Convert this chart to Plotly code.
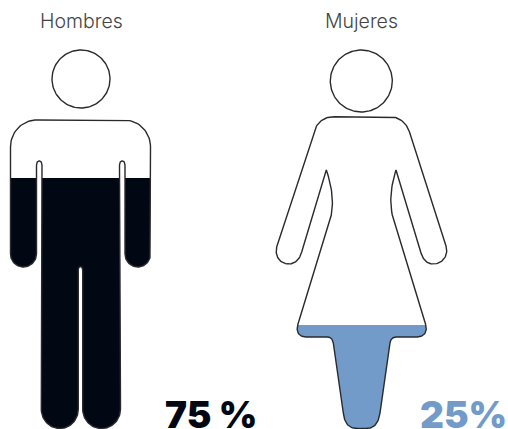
import numpy as np
import plotly.graph_objects as go

groups = ["Hombres", "Mujeres"]
shares = [75, 25]
share_labels = ["75 %", "25%"]
fill_colors = ["#020813", "#729bca"]
outline_color = "#2a2a2e"
label_color = "#444444"
W, H = 508, 429


def sample(cmds, n=24):
    """Turn a list of M/L/Q/C commands into a sampled polyline."""
    pts = []
    cur = None
    for c in cmds:
        k = c[0]
        p = [np.array(q, float) for q in c[1:]]
        if k in "ML":
            pts.append(p[0]); cur = p[0]
        else:
            for t in np.linspace(0, 1, n)[1:]:
                if k == "Q":
                    q = (1-t)**2*cur + 2*(1-t)*t*p[0] + t**2*p[1]
                else:
                    q = (1-t)**3*cur + 3*(1-t)**2*t*p[0] + 3*(1-t)*t**2*p[1] + t**3*p[2]
                pts.append(q)
            cur = p[-1]
    return np.array(pts)


def clip_below(poly, level):
    """Keep the part of a closed polygon under a horizontal level."""
    out = []
    m = len(poly)
    for i in range(m):
        a, b = poly[i], poly[(i+1) % m]
        ain, bin_ = a[1] >= level, b[1] >= level
        if ain:
            out.append(a)
        if ain != bin_:
            t = (level-a[1])/(b[1]-a[1])
            out.append(a+t*(b-a))
    return np.array(out)


def circle(cx, cy, r):
    th = np.linspace(0, 2*np.pi, 121)
    return np.column_stack([cx+r*np.cos(th), cy+r*np.sin(th)])


man = sample([
    ("M", (37, 120)), ("L", (124, 120)),
    ("C", (139, 120), (150.5, 132), (150.5, 147)),
    ("L", (150.5, 254)),
    ("C", (150.5, 261.5), (144.5, 267), (138, 267)),
    ("C", (131, 267), (125, 261.5), (125, 254)),
    ("L", (125, 165)),
    ("C", (125, 159.5), (119.5, 159.5), (119.5, 165)),
    ("L", (120.5, 409)),
    ("C", (120.5, 420), (112, 428.5), (101.5, 428.5)),
    ("C", (91, 428.5), (82.7, 420), (82.7, 409)),
    ("L", (82.7, 270)),
    ("C", (82.7, 265.5), (78.3, 265.5), (78.3, 270)),
    ("L", (78.3, 409)),
    ("C", (78.3, 420), (70, 428.5), (60, 428.5)),
    ("C", (49.5, 428.5), (41.3, 420), (41.3, 409)),
    ("L", (42, 165)),
    ("C", (42, 159.5), (36.5, 159.5), (36.5, 165)),
    ("L", (36.5, 254)),
    ("C", (36.5, 261.5), (30, 267), (23.5, 267)),
    ("C", (16.5, 267), (10.5, 261.5), (10.5, 254)),
    ("L", (10.5, 147)),
    ("C", (10.5, 132), (22, 120), (37, 120)),
])

woman = sample([
    ("M", (334, 116.7)), ("L", (389, 116.7)),
    ("C", (399, 116.7), (406, 122), (409.5, 132)),
    ("L", (446, 246)),
    ("C", (449, 256), (442, 264), (433, 264)),
    ("C", (427, 264), (422.5, 259), (420.7, 252)),
    ("L", (396, 170)),
    ("Q", (388, 195), (392.3, 215)),
    ("L", (425.5, 324)),
    ("C", (428, 332), (424, 337), (417, 337)),
    ("L", (396, 337)),
    ("Q", (391, 337), (390, 343)),
    ("L", (380, 413)),
    ("Q", (378, 428.5), (366, 428.5)),
    ("L", (357, 428.5)),
    ("Q", (345, 428.5), (343.3, 413)),
    ("L", (333.3, 343)),
    ("Q", (332.5, 337), (327, 337)),
    ("L", (306, 337)),
    ("C", (299, 337), (295.5, 332), (298, 324)),
    ("L", (331.3, 215)),
    ("Q", (335, 195), (326.3, 170)),
    ("L", (301.7, 252)),
    ("C", (300, 259), (295, 264), (289, 264)),
    ("C", (280, 264), (274, 256), (277, 246)),
    ("L", (314, 132)),
    ("C", (317, 122), (324, 116.7), (334, 116.7)),
])

bodies = [man, woman]
heads = [circle(81, 79, 29), circle(361.3, 81, 31)]
fill_levels = [178, 325]

fig = go.Figure()
for body, head, level, color in zip(bodies, heads, fill_levels, fill_colors):
    part = clip_below(body, level)
    fig.add_trace(go.Scatter(x=part[:, 0], y=part[:, 1], mode="lines", fill="toself",
                             fillcolor=color, line=dict(width=0), hoverinfo="skip"))
    for shape in (body, head):
        fig.add_trace(go.Scatter(x=shape[:, 0], y=shape[:, 1], mode="lines",
                                 line=dict(color=outline_color, width=1.4), hoverinfo="skip"))

for name, x in zip(groups, [81, 361.3]):
    fig.add_annotation(x=x, y=21, text=name, showarrow=False, xanchor="center", yanchor="middle",
                       font=dict(family="Inter, Open Sans, sans-serif", size=19.5, weight=300, color=label_color))
for label, x, color in zip(share_labels, [210.5, 463.5], fill_colors):
    fig.add_annotation(x=x, y=414, text=label, showarrow=False, xanchor="center", yanchor="middle",
                       height=28, borderpad=0,
                       font=dict(family="Inter, Open Sans, sans-serif", size=37, weight=900, color=color))

fig.update_layout(
    width=W, height=H, margin=dict(l=0, r=0, t=0, b=0),
    paper_bgcolor="white", plot_bgcolor="white", showlegend=False,
    xaxis=dict(range=[0, W], visible=False, fixedrange=True),
    yaxis=dict(range=[H, 0], visible=False, fixedrange=True),
)
fig.write_html("out.html", config={"displayModeBar": False},
               post_script="document.body.style.margin='0';document.documentElement.style.overflow='hidden';")
